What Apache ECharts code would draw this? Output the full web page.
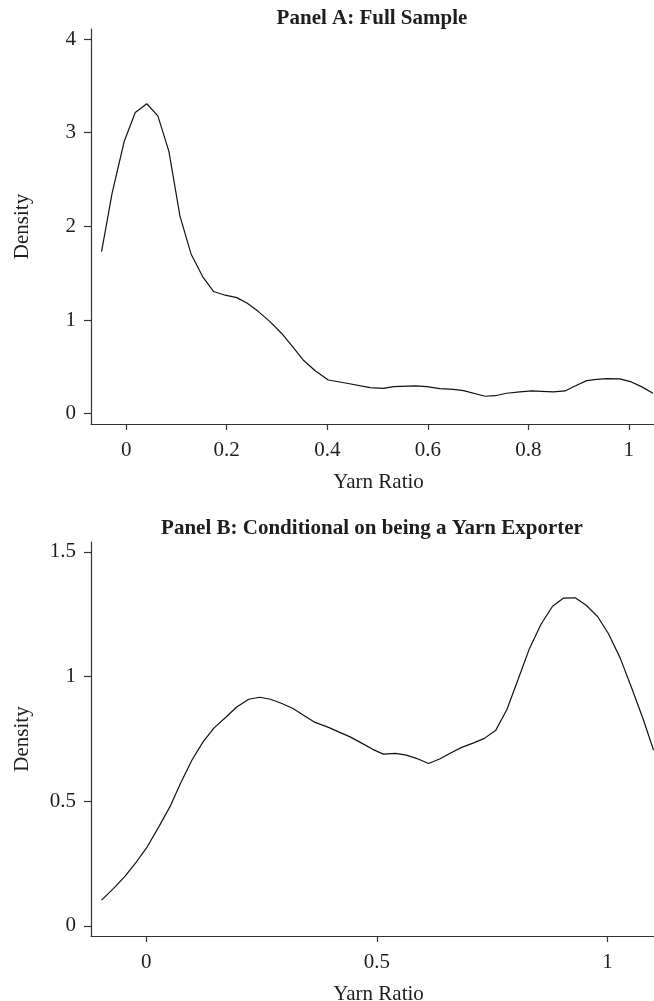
<!DOCTYPE html>
<html>
<head>
<meta charset="utf-8">
<script src="https://cdn.jsdelivr.net/npm/echarts@6/dist/echarts.min.js"></script>
<style>
  html, body { margin: 0; padding: 0; background: #fff; }
  #chart { width: 654px; height: 1001px; }
</style>
</head>
<body>
<div id="chart"></div>
<script>
// Panel A: full sample
const panelAX = [-0.049, -0.028, -0.004, 0.018, 0.041, 0.063, 0.085, 0.107, 0.129, 0.152,
  0.174, 0.197, 0.220, 0.241, 0.263, 0.286, 0.309, 0.331, 0.352, 0.376,
  0.402, 0.439, 0.485, 0.512, 0.532, 0.575, 0.598, 0.624, 0.651, 0.671,
  0.714, 0.734, 0.757, 0.783, 0.807, 0.826, 0.850, 0.873, 0.893, 0.916,
  0.936, 0.956, 0.982, 1.005, 1.025, 1.048];
const panelAY = [1.73, 2.355, 2.906, 3.216, 3.309, 3.18, 2.80, 2.11, 1.706, 1.464,
  1.304, 1.265, 1.239, 1.179, 1.09, 0.983, 0.859, 0.716, 0.574, 0.459,
  0.36, 0.325, 0.278, 0.271, 0.289, 0.296, 0.289, 0.267, 0.26, 0.246,
  0.186, 0.192, 0.218, 0.232, 0.243, 0.239, 0.232, 0.243, 0.296, 0.353,
  0.367, 0.374, 0.371, 0.339, 0.289, 0.218];

// Panel B: yarn exporters only
const panelBX = [-0.097, -0.071, -0.046, -0.024, 0.002, 0.027, 0.051, 0.074, 0.099, 0.123,
  0.147, 0.173, 0.196, 0.222, 0.246, 0.269, 0.294, 0.318, 0.341, 0.366,
  0.395, 0.417, 0.442, 0.468, 0.491, 0.514, 0.540, 0.564, 0.587, 0.612,
  0.636, 0.661, 0.684, 0.710, 0.733, 0.758, 0.782, 0.807, 0.831, 0.856,
  0.881, 0.905, 0.930, 0.954, 0.979, 1.002, 1.028, 1.053, 1.077, 1.100];
const panelBY = [0.103, 0.150, 0.199, 0.250, 0.317, 0.397, 0.477, 0.571, 0.665, 0.738,
  0.794, 0.838, 0.878, 0.909, 0.917, 0.909, 0.892, 0.872, 0.845, 0.816,
  0.796, 0.778, 0.758, 0.732, 0.708, 0.689, 0.692, 0.685, 0.671, 0.651,
  0.669, 0.694, 0.716, 0.734, 0.752, 0.785, 0.868, 0.992, 1.113, 1.210,
  1.282, 1.315, 1.316, 1.286, 1.240, 1.173, 1.073, 0.952, 0.832, 0.705];

// tick labels
const ticksAX = [0, 0.2, 0.4, 0.6, 0.8, 1];
const ticksAY = [0, 1, 2, 3, 4];
const ticksBX = [0, 0.5, 1];
const ticksBY = [0, 0.5, 1, 1.5];

const titles = ['Panel A: Full Sample', 'Panel B: Conditional on being a Yarn Exporter'];
const xName = 'Yarn Ratio';
const yName = 'Density';

const FONT = 'Liberation Serif, Times New Roman, serif';
const INK = '#1e1e1e';
const AXIS = '#333';

function zip(xs, ys) {
  return xs.map((x, i) => [x, ys[i]]);
}

function xAxisOf(gridIndex, min, max, ticks) {
  return {
    type: 'value', gridIndex, min, max,
    name: xName, nameLocation: 'middle', nameGap: 48,
    nameTextStyle: { fontFamily: FONT, fontSize: 21, color: INK, padding: [0, 0, 0, 12] },
    axisLine: { onZero: false, lineStyle: { color: AXIS, width: 1.2 } },
    axisTick: { show: true, length: 6, customValues: ticks, lineStyle: { color: AXIS, width: 1.2 } },
    axisLabel: { customValues: ticks, margin: 16, fontFamily: FONT, fontSize: 21, color: INK,
      formatter: (v) => String(v) },
    splitLine: { show: false }
  };
}

function yAxisOf(gridIndex, min, max, ticks) {
  return {
    type: 'value', gridIndex, min, max,
    name: yName, nameLocation: 'middle', nameGap: 58, nameRotate: 90,
    nameTextStyle: { fontFamily: FONT, fontSize: 21, color: INK },
    axisLine: { onZero: false, lineStyle: { color: AXIS, width: 1.2 } },
    axisTick: { show: true, length: 7, customValues: ticks, lineStyle: { color: AXIS, width: 1.2 } },
    axisLabel: { customValues: ticks, margin: 15, fontFamily: FONT, fontSize: 21, color: INK,
      formatter: (v) => String(v) },
    splitLine: { show: false }
  };
}

const chart = echarts.init(document.getElementById('chart'));
chart.setOption({
  animation: false,
  backgroundColor: '#fff',
  title: [
    { text: titles[0], left: 372, top: 8, textAlign: 'center', padding: 0,
      textStyle: { fontFamily: FONT, fontSize: 21, fontWeight: 'bold', color: INK } },
    { text: titles[1], left: 372, top: 518, textAlign: 'center', padding: 0,
      textStyle: { fontFamily: FONT, fontSize: 21, fontWeight: 'bold', color: INK } }
  ],
  grid: [
    { left: 91, top: 29, width: 563, height: 395, containLabel: false, outerBoundsMode: 'none' },
    { left: 91, top: 542, width: 563, height: 394, containLabel: false, outerBoundsMode: 'none' }
  ],
  xAxis: [
    xAxisOf(0, -0.07, 1.05, ticksAX),
    xAxisOf(1, -0.12, 1.101, ticksBX)
  ],
  yAxis: [
    yAxisOf(0, -0.11, 4.107, ticksAY),
    yAxisOf(1, -0.041, 1.54, ticksBY)
  ],
  series: [
    { type: 'line', xAxisIndex: 0, yAxisIndex: 0, data: zip(panelAX, panelAY),
      showSymbol: false, lineStyle: { color: '#111', width: 1.2 } },
    { type: 'line', xAxisIndex: 1, yAxisIndex: 1, data: zip(panelBX, panelBY),
      showSymbol: false, lineStyle: { color: '#111', width: 1.2 } }
  ]
});
</script>
</body>
</html>
